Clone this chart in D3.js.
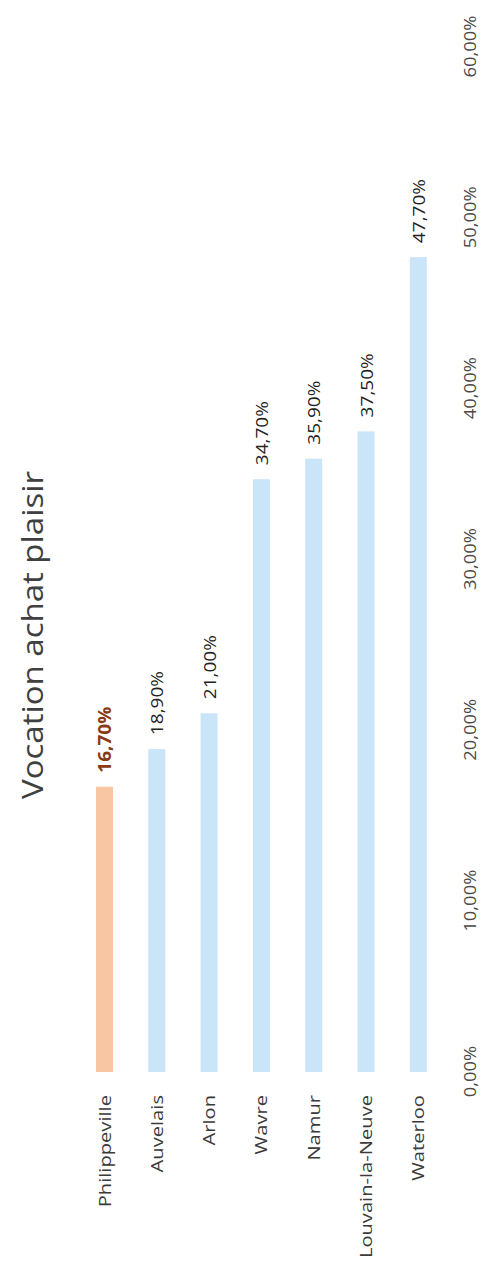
<!DOCTYPE html>
<html>
<head>
<meta charset="utf-8">
<script src="https://cdn.jsdelivr.net/npm/d3@7"></script>
<style>
  body { margin: 0; background: #fff; }
  svg { display: block; }
</style>
</head>
<body>
<script>
// Share of shoppers with a "leisure shopping" motive, per town
const categories = ["Philippeville", "Auvelais", "Arlon", "Wavre", "Namur", "Louvain-la-Neuve", "Waterloo"];
const values = [16.7, 18.9, 21.0, 34.7, 35.9, 37.5, 47.7];
const highlighted = ["Philippeville"];
const tickValues = [0, 10, 20, 30, 40, 50, 60];
const titleText = "Vocation achat plaisir";

const W = 484, H = 1269;
const fmt = v => v.toFixed(2).replace(".", ",") + "%";
const FONT = "'Open Sans', 'Noto Sans', sans-serif";

const svg = d3.select("body").append("svg")
  .attr("width", W).attr("height", H);

// The chart is laid out as a horizontal bar chart, then turned a quarter
// turn counter-clockwise so it reads bottom-to-top on the page.
const g = svg.append("g").attr("transform", `translate(0,${H}) rotate(-90)`);

const x = d3.scaleLinear().domain([0, 60]).range([H - 1072, H - 47]);
const y = d3.scaleBand().domain(categories)
  .range([78.35, 444.45]).paddingInner(0.675).paddingOuter(0.3375);

const data = categories.map((c, i) => ({ c, v: values[i], hi: highlighted.includes(c) }));

// bars
g.selectAll("rect.bar").data(data).join("rect")
  .attr("class", "bar")
  .attr("x", x(0))
  .attr("y", d => y(d.c))
  .attr("width", d => x(d.v) - x(0))
  .attr("height", y.bandwidth())
  .attr("fill", d => d.hi ? "#f8c6a2" : "#cae4f8");

// value labels
g.selectAll("text.val").data(data).join("text")
  .attr("class", "val")
  .attr("transform", d => `translate(${x(d.v) + 14},${y(d.c) + y.bandwidth() / 2}) scale(1.12,1)`)
  .attr("dominant-baseline", "central")
  .attr("font-family", FONT)
  .attr("font-size", 17)
  .attr("font-weight", d => d.hi ? 700 : 400)
  .attr("fill", d => d.hi ? "#8a3a12" : "#222")
  .text(d => fmt(d.v));

// category labels
g.selectAll("text.cat").data(data).join("text")
  .attr("class", "cat")
  .attr("transform", d => `translate(${H - 1095},${y(d.c) + y.bandwidth() / 2}) scale(1.3,1)`)
  .attr("text-anchor", "end")
  .attr("dominant-baseline", "central")
  .attr("font-family", FONT)
  .attr("font-size", 15.5)
  .attr("fill", "#3a3a3a")
  .text(d => d.c);

// value axis (labels only)
const axis = d3.axisBottom(x).tickValues(tickValues).tickFormat(fmt).tickSize(0).tickPadding(0);
const ax = g.append("g").attr("transform", "translate(0,470)").call(axis);
ax.select(".domain").remove();
ax.selectAll(".tick text")
  .attr("x", 0)
  .attr("y", 0)
  .attr("dy", null)
  .attr("dominant-baseline", "central")
  .attr("transform", "scale(1.15,1)")
  .attr("font-family", FONT)
  .attr("font-size", 16)
  .attr("fill", "#4a4a4a");

// title
g.append("text")
  .attr("transform", `translate(${H - 635},31) scale(1.1,1)`)
  .attr("text-anchor", "middle")
  .attr("dominant-baseline", "central")
  .attr("font-family", FONT)
  .attr("font-size", 30)
  .attr("fill", "#404040")
  .text(titleText);
</script>
</body>
</html>
